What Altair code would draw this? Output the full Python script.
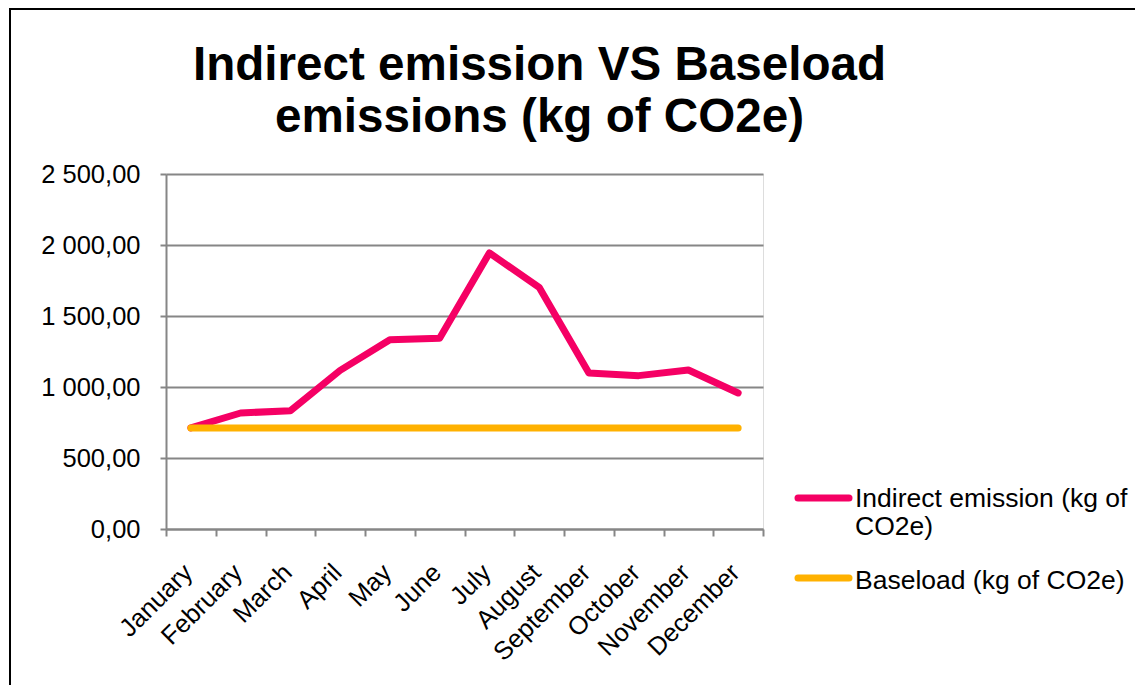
import altair as alt
import pandas as pd

months = ["January", "February", "March", "April", "May", "June", "July",
          "August", "September", "October", "November", "December"]
indirect = [712, 817, 833, 1117, 1333, 1343, 1944, 1702, 1099, 1080, 1120, 958]
baseload = [712, 712, 712, 712, 712, 712, 712, 712, 712, 712, 712, 712]
series_names = ["Indirect emission (kg of CO2e)", "Baseload (kg of CO2e)"]
legend_lines = [["Indirect emission (kg of", "CO2e)"], ["Baseload (kg of CO2e)"]]
colors = ["#F50064", "#FFB100"]
y_ticks = [0, 500, 1000, 1500, 2000, 2500]
title_lines = ["Indirect emission VS Baseload", "emissions (kg of CO2e)"]

FONT = "Liberation Sans"
GREY = "#868686"

df = pd.DataFrame({
    "month": months * 2,
    "value": indirect + baseload,
    "series": [series_names[0]] * 12 + [series_names[1]] * 12,
})
legend_df = pd.DataFrame({"series": series_names})

color = alt.Color("series:N", scale=alt.Scale(domain=series_names, range=colors), legend=None)

x_enc = alt.X(
    "month:N", sort=months, bandPosition=0.5,
    scale=alt.Scale(type="band", paddingInner=0, paddingOuter=0),
    axis=alt.Axis(
        title=None, labelAngle=-45, labelAlign="right", labelBaseline="middle",
        tickBand="extent", tickSize=7, tickWidth=2, tickColor=GREY,
        domainColor=GREY, domainWidth=2, grid=False,
        labelFont=FONT, labelFontSize=25.5, labelColor="black",
        labelPadding=32, labelOffset=-3,
    ),
)
y_enc = alt.Y(
    "value:Q",
    scale=alt.Scale(domain=[0, 2500], nice=False),
    axis=alt.Axis(
        values=y_ticks, title=None,
        labelExpr="replace(replace(format(datum.value, ',.2f'), ',', ' '), '.', ',')",
        tickSize=6, tickWidth=2, tickColor=GREY,
        domainColor=GREY, domainWidth=2,
        grid=True, gridColor=GREY, gridWidth=2,
        labelFont=FONT, labelFontSize=25.5, labelColor="black", labelPadding=20,
    ),
)

line_pink = alt.Chart(df).transform_filter(
    alt.datum.series == series_names[0]
).mark_line(strokeWidth=7, strokeCap="round", strokeJoin="round").encode(
    x=x_enc, y=y_enc, color=color
)
line_orange = alt.Chart(df).transform_filter(
    alt.datum.series == series_names[1]
).mark_line(strokeWidth=7, strokeCap="round", strokeJoin="round").encode(
    x=x_enc, y=y_enc, color=color
)

def legend_entry(i, y_sym, y_text):
    sub = legend_df.iloc[[i]]
    rule = alt.Chart(sub).mark_rule(strokeWidth=7, strokeCap="round").encode(
        x=alt.value(632), x2=alt.value(683), y=alt.value(y_sym), color=color
    )
    txt = alt.Chart(sub).mark_text(
        align="left", baseline="alphabetic", font=FONT, fontSize=26.5,
        lineHeight=27.5, color="black", text=legend_lines[i]
    ).encode(x=alt.value(689), y=alt.value(y_text))
    return rule + txt

frame_src = legend_df.iloc[[0]]
frame_left = alt.Chart(frame_src).mark_rule(color="black", strokeWidth=2).encode(
    x=alt.value(-156), y=alt.value(-165), y2=alt.value(700)
)
frame_top = alt.Chart(frame_src).mark_rule(color="black", strokeWidth=2).encode(
    x=alt.value(-157), x2=alt.value(1100), y=alt.value(-165)
)

chart = alt.layer(
    frame_left, frame_top, line_pink, line_orange,
    legend_entry(0, 324, 333), legend_entry(1, 404, 415),
).properties(
    width=597, height=355,
    autosize=alt.AutoSizeParams(type="none"),
    padding={"left": 158, "top": 166, "right": 372, "bottom": 156},
    title=alt.TitleParams(
        text=title_lines, font=FONT, fontSize=47.6, fontWeight="bold",
        color="black", anchor="middle", frame="group", dx=75,
        lineHeight=52, offset=-134,
    ),
).configure_view(stroke=None).configure(background="white")

chart.save("out.html", embed_options={"renderer": "svg", "actions": False})
